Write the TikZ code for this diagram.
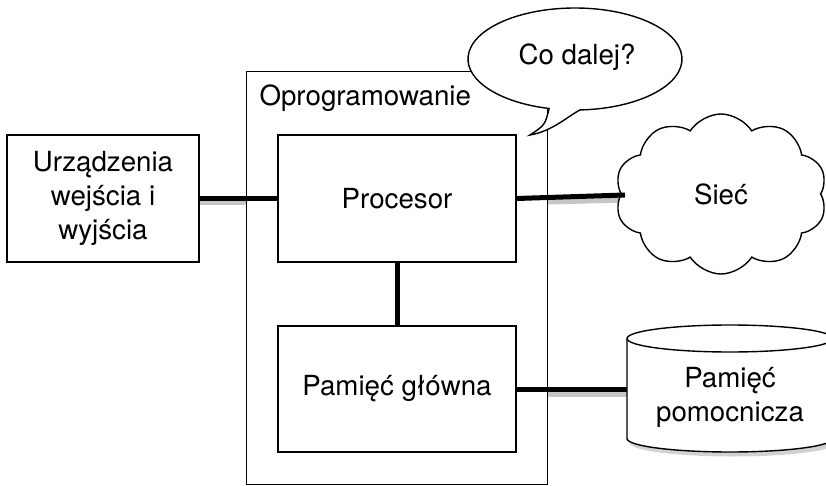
\documentclass[tikz,border=0pt]{standalone}
\usepackage{fontspec}
\setmainfont{TeX Gyre Heros}
\usetikzlibrary{shapes.symbols}
\begin{document}
\begin{tikzpicture}[x=1pt,y=1pt,
  box/.style={draw,line width=1.4pt,fill=white,inner sep=0pt},
  lbl/.style={font=\fontsize{27.7}{34}\selectfont,align=center},
  conn/.style={line width=5pt},
  shade/.style={line width=5pt,draw=gray!45},
]
\useasboundingbox (0,0) rectangle (826,-486);
\clip (0,0) rectangle (826,-486);
% shadows of connectors
\draw[shade] (199,-203) -- (246,-203);
\draw[shade] (548,-202) -- (627,-200);
\draw[shade] (548,-394) -- (627,-394);
% outer software box
\node[box,minimum width=301,minimum height=413,anchor=north west] (soft) at (246,-71) {};
\node[lbl,anchor=base west] (softl) at (256,-106) {Oprogramowanie};
% inner boxes
\node[box,lbl,minimum width=238,minimum height=127] (proc) at (397,-198.5) {Procesor};
\node[box,lbl,minimum width=238,minimum height=126] (mem) at (397,-389) {Pamięć główna};
\node[box,lbl,minimum width=192,minimum height=127] (io) at (103,-198.5) {Urządzenia\\wejścia i\\wyjścia};
% cylinder (secondary memory) shadow
\fill[gray!35] (630,-343) -- (630,-443) arc[start angle=180,end angle=360,x radius=103,y radius=13.5] -- (836,-343) -- cycle;
% cylinder
\filldraw[fill=white,line width=1.4pt] (627,-338.5) -- (627,-438.5) arc[start angle=180,end angle=360,x radius=103,y radius=13.5] -- (833,-338.5);
\filldraw[fill=white,line width=1.4pt] (730,-338.5) ellipse[x radius=103,y radius=13.5];
\node[lbl] (cyl) at (730,-397) {Pamięć\\pomocnicza};
\coordinate (cylw) at (627,-389);
% cloud
\node[cloud,draw,line width=1.4pt,fill=white,cloud puffs=10,cloud puff arc=115,cloud ignores aspect,minimum width=212,minimum height=160,lbl] (net) at (721,-194) {Sieć};
\coordinate (netw) at (625,-195);
% connectors
\draw[conn] (io.east) -- (proc.west);
\draw[conn] (proc.south) -- (mem.north);
\draw[conn] (proc.east) -- (netw);
\draw[conn] (mem.east) -- (cylw);
% speech bubble
\filldraw[fill=white,line width=1.4pt] (575,-59) ++(272.7:107 and 51) arc[start angle=272.7,end angle=616,x radius=107,y radius=51]
  .. controls (545,-125) .. (530,-135)
  .. controls (553,-131) and (568,-116) .. (580,-110) -- cycle;
\node[lbl] (bubble) at (577,-57) {Co dalej?};
\end{tikzpicture}
\end{document}
